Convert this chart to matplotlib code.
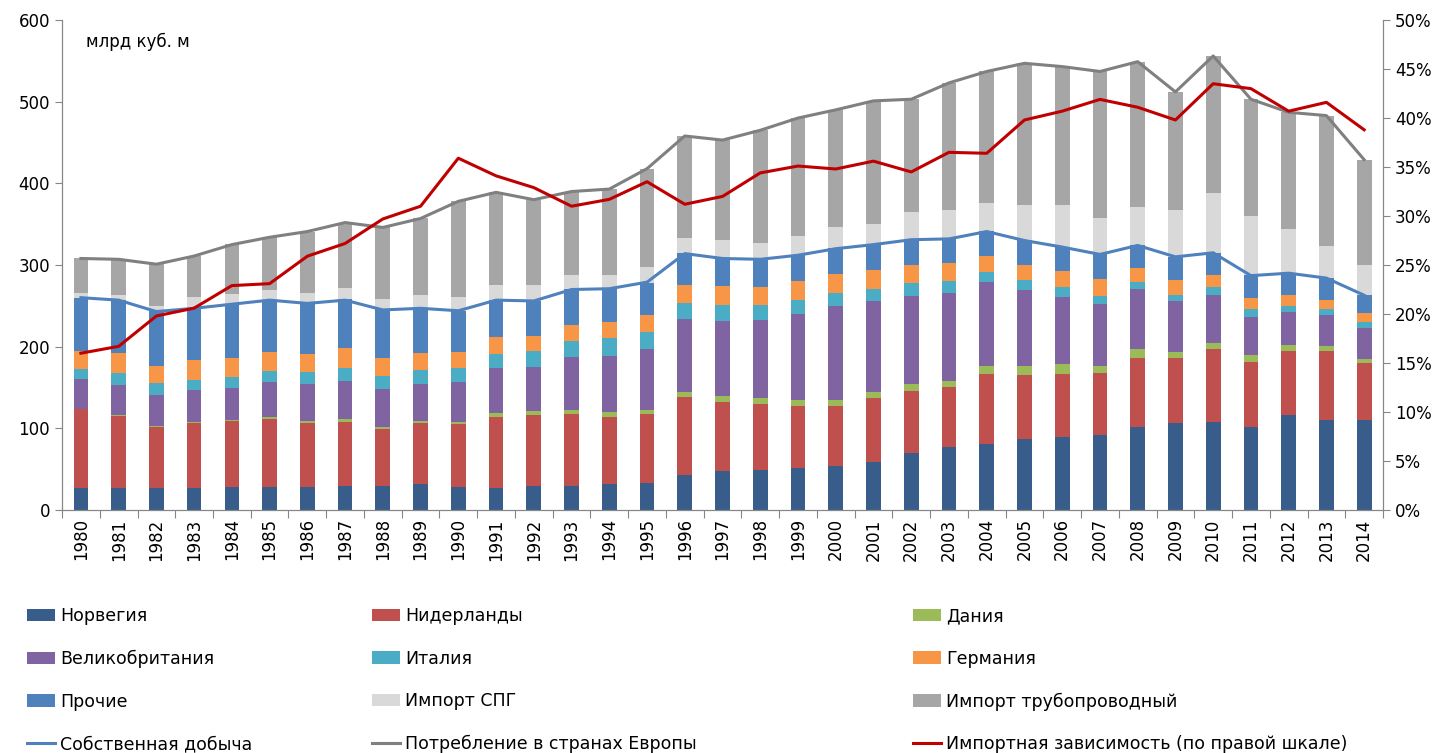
import numpy as np
import matplotlib
matplotlib.use('Agg')
import matplotlib.pyplot as plt
from matplotlib.ticker import FuncFormatter, FixedLocator

plt.rcParams['font.family'] = ['DejaVu Sans']

years = list(range(1980, 2015))

norway = [26.6, 26.6, 26.6, 26.6, 27.8, 27.8, 28.6, 29.8, 29.8, 31.4, 28.6, 27.3, 29.8, 29.8, 31.4, 32.7,
          42.9, 47.8, 49.0, 51.0, 53.9, 59.0, 70.2, 77.6, 81.2, 87.3, 89.8, 91.8, 102.0, 106.9, 108.2,
          102.0, 115.9, 109.8, 109.8]
netherlands = [96.7, 88.9, 75.4, 80.4, 81.2, 83.6, 78.4, 78.4, 69.8, 75.6, 76.4, 87.0, 86.9, 87.3, 82.9,
               84.4, 95.1, 84.0, 80.4, 76.3, 73.4, 77.7, 75.5, 73.4, 85.7, 78.4, 77.1, 76.4, 83.7, 78.8,
               88.5, 79.6, 79.2, 85.3, 70.6]
denmark = [0.2, 0.3, 0.4, 0.5, 0.8, 2.1, 1.6, 2.8, 2.4, 2.4, 2.4, 4.1, 4.1, 4.9, 5.3, 4.9, 6.1, 8.2, 7.3,
           7.4, 7.4, 7.8, 8.6, 7.0, 9.8, 10.6, 11.5, 8.5, 11.0, 8.2, 7.4, 7.8, 6.5, 5.7, 4.9]
uk = [37.1, 37.5, 38.8, 40.0, 39.0, 43.5, 46.0, 47.0, 46.0, 44.9, 49.6, 55.9, 54.7, 65.7, 69.4, 75.5, 89.8,
      91.4, 95.9, 105.3, 115.1, 111.4, 108.1, 108.1, 102.1, 92.7, 82.8, 75.9, 73.5, 62.4, 59.5, 47.3,
      41.3, 37.5, 37.5]
italy = [12.2, 14.7, 14.7, 12.2, 14.0, 13.2, 14.8, 16.2, 16.5, 17.5, 17.2, 17.1, 18.8, 18.8, 21.2, 20.5,
         19.6, 19.6, 18.4, 17.1, 16.3, 15.1, 15.2, 13.9, 12.6, 12.6, 11.5, 9.8, 8.6, 7.3, 9.1, 9.0, 7.3,
         8.2, 7.4]
germany = [22.4, 23.7, 20.0, 23.6, 23.7, 22.8, 21.2, 23.8, 21.2, 20.0, 18.8, 20.0, 18.7, 20.0, 20.0, 21.2,
           22.4, 22.9, 21.6, 22.9, 22.5, 22.7, 22.4, 22.4, 20.0, 18.4, 19.9, 20.1, 17.1, 18.0, 14.6, 14.3,
           13.1, 11.0, 11.4]
others = [64.2, 65.6, 67.3, 64.2, 66.1, 64.0, 62.4, 60.0, 60.0, 55.2, 51.0, 45.7, 43.3, 43.7, 40.8, 39.2,
          38.4, 34.3, 33.5, 32.2, 31.8, 31.3, 30.6, 29.0, 30.6, 30.6, 29.8, 30.6, 28.6, 28.6, 27.7, 27.3,
          26.5, 26.2, 22.0]
lng = [6.1, 5.9, 7.0, 13.4, 12.2, 13.0, 12.3, 13.4, 12.3, 16.3, 16.4, 18.0, 18.8, 17.1, 16.3, 18.7, 18.8,
       22.8, 20.8, 23.3, 26.5, 25.6, 33.9, 35.9, 33.9, 42.9, 51.1, 44.0, 46.5, 56.7, 72.7, 72.7, 54.7,
       40.0, 36.4]
pipeline = [42.7, 44.1, 51.2, 50.6, 61.0, 64.0, 75.7, 80.6, 88.0, 93.7, 117.6, 113.9, 104.9, 102.7, 105.7,
            120.9, 124.9, 122.0, 138.1, 144.5, 143.1, 150.4, 138.5, 155.7, 161.6, 173.5, 169.5, 179.9,
            178.0, 145.1, 168.3, 143.0, 142.5, 159.3, 129.0]

own_production = [260, 257, 243, 247, 252, 257, 253, 257, 245, 247, 244, 257, 256, 270, 271, 279, 314, 308,
                  307, 312, 320, 325, 331, 332, 341, 330, 322, 313, 324, 310, 315, 287, 290, 284, 263]
consumption = [308, 307, 301, 311, 325, 334, 341, 352, 346, 357, 378, 389, 380, 390, 393, 418, 458, 453,
               465, 480, 490, 501, 503, 523, 537, 547, 543, 537, 549, 512, 556, 503, 487, 483, 429]
import_dep = [16.0, 16.7, 19.8, 20.6, 22.9, 23.1, 25.9, 27.2, 29.7, 31.0, 35.9, 34.1, 32.9, 31.0, 31.7,
              33.5, 31.2, 32.0, 34.4, 35.1, 34.8, 35.6, 34.5, 36.5, 36.4, 39.8, 40.7, 41.9, 41.1, 39.8,
              43.5, 43.0, 40.7, 41.6, 38.8]

stack = [
    ('Норвегия', norway, '#385D8A'),
    ('Нидерланды', netherlands, '#C0504D'),
    ('Дания', denmark, '#9BBB59'),
    ('Великобритания', uk, '#8064A2'),
    ('Италия', italy, '#4BACC6'),
    ('Германия', germany, '#F79646'),
    ('Прочие', others, '#4F81BD'),
    ('Импорт СПГ', lng, '#D9D9D9'),
    ('Импорт трубопроводный', pipeline, '#A6A6A6'),
]

fig = plt.figure(figsize=(14.39, 7.53), dpi=100)
ax = fig.add_axes([0.0431, 0.3227, 0.9180, 0.6507])

x = np.arange(len(years))
bottom = np.zeros(len(years))
handles = {}
for name, vals, col in stack:
    vals = np.array(vals)
    h = ax.bar(x, vals, 0.39, bottom=bottom, color=col, label=name, zorder=2)
    handles[name] = h
    bottom += vals

l1, = ax.plot(x, own_production, color='#4F81BD', lw=2.2, zorder=3, label='Собственная добыча')
l2, = ax.plot(x, consumption, color='#808080', lw=2.2, zorder=3, label='Потребление в странах Европы')

ax2 = ax.twinx()
l3, = ax2.plot(x, import_dep, color='#C00000', lw=2.2, zorder=4,
               label='Импортная зависимость (по правой шкале)')

ax.set_xlim(-0.5, len(years) - 0.5)
ax.set_ylim(0, 600)
ax2.set_ylim(0, 50)
ax.set_yticks(range(0, 601, 100))
ax2.set_yticks(range(0, 51, 5))
ax2.yaxis.set_major_formatter(FuncFormatter(lambda v, p: '%d%%' % v))

ax.xaxis.set_major_locator(FixedLocator(np.arange(-0.5, len(years), 1.0)))
ax.xaxis.set_major_formatter(FuncFormatter(lambda v, p: ''))
ax.xaxis.set_minor_locator(FixedLocator(x))
ax.set_xticklabels([str(y) for y in years], minor=True, rotation=90, fontsize=12)
ax.tick_params(axis='x', which='minor', length=0, pad=6)
ax.tick_params(axis='x', which='major', length=6, color='#868686')
ax.tick_params(axis='y', labelsize=12, length=5, color='#868686')
ax2.tick_params(axis='y', labelsize=12, length=5, color='#868686')

for a in (ax, ax2):
    a.spines['top'].set_visible(False)
    for s in ('left', 'right', 'bottom'):
        a.spines[s].set_color('#868686')

ax.text(0.018, 0.975, 'млрд куб. м', transform=ax.transAxes, fontsize=12, va='top', ha='left')

# legend: three columns placed like in the original
columns = [
    (27, [handles['Норвегия'], handles['Великобритания'], handles['Прочие'], l1]),
    (372, [handles['Нидерланды'], handles['Италия'], handles['Импорт СПГ'], l2]),
    (913, [handles['Дания'], handles['Германия'], handles['Импорт трубопроводный'], l3]),
]
for xpix, hs in columns:
    fig.legend(hs, [h.get_label() for h in hs], loc='upper left',
               bbox_to_anchor=(xpix / 1439, 1 - 607 / 753), frameon=False, fontsize=12.5,
               borderpad=0, borderaxespad=0, handlelength=1.6, handleheight=0.7,
               handletextpad=0.3, labelspacing=1.42)

fig.savefig('out.png', dpi=100)
